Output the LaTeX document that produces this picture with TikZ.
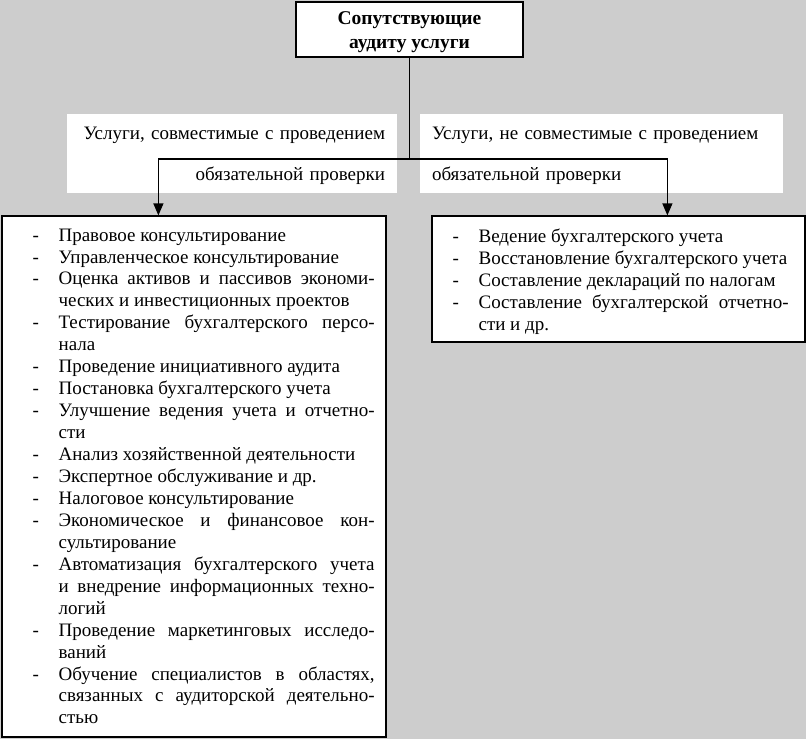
\documentclass[tikz,border=0pt]{standalone}
\usepackage{fontspec}
\setmainfont{Liberation Serif}
\usetikzlibrary{arrows.meta}

\definecolor{bggray}{RGB}{205,205,205}
\newlength\listw
% list lines: dash, then text; "full" lines are stretched to the column width
\newcommand\itemline[1]{\makebox[26pt][l]{-}#1}
\newcommand\itemfull[1]{\makebox[26pt][l]{-}\makebox[\listw][s]{#1}}
\newcommand\contline[1]{\hspace*{26pt}#1}
\newcommand\contfull[1]{\hspace*{26pt}\makebox[\listw][s]{#1}}
\newcommand\topstrut{\rule{0pt}{17.5pt}}

\begin{document}
\begin{tikzpicture}[
  x=1pt,y=-1pt,
  >={Triangle[width=10pt,length=12pt]},
  line width=1.2pt,
  box/.style={draw,fill=white,inner sep=0pt},
  label/.style={fill=white,inner xsep=12pt,inner ysep=0pt,
    minimum height=79pt,font=\fontsize{19}{41}\selectfont},
  listtext/.style={align=left,inner sep=0pt,anchor=north west,
    font=\fontsize{19}{21.95}\selectfont}
]
\fill[bggray] (0,0) rectangle (806,739);

% top node
\node[box,minimum width=227pt,minimum height=55pt,align=center,
  font=\fontsize{19.5}{24}\selectfont\bfseries] (title) at (409.5,29.5)
  {\topstrut Сопутствующие\\аудиту услуги};

% labels
\node[label,text width=306pt,align=right] (lefthead) at (232,153.5)
  {\topstrut Услуги, совместимые с проведением\\обязательной проверки};
\node[label,text width=339pt,align=left] (righthead) at (601.5,153.5)
  {\topstrut Услуги, не совместимые с проведением\\обязательной проверки};

% boxes
\node[box,minimum width=384pt,minimum height=521pt] (leftbox) at (194,476.5) {};
\node[box,minimum width=373pt,minimum height=126pt] (rightbox) at (618.5,279) {};

\setlength\listw{316pt}
\node[listtext] (leftlist) at (32,228) {%
  \itemline{Правовое консультирование}\\
  \itemline{Управленческое консультирование}\\
  \itemfull{Оценка активов и пассивов экономи-}\\
  \contline{ческих и инвестиционных проектов}\\
  \itemfull{Тестирование бухгалтерского персо-}\\
  \contline{нала}\\
  \itemline{Проведение инициативного аудита}\\
  \itemline{Постановка бухгалтерского учета}\\
  \itemfull{Улучшение ведения учета и отчетно-}\\
  \contline{сти}\\
  \itemline{Анализ хозяйственной деятельности}\\
  \itemline{Экспертное обслуживание и др.}\\
  \itemline{Налоговое консультирование}\\
  \itemfull{Экономическое и финансовое кон-}\\
  \contline{сультирование}\\
  \itemfull{Автоматизация бухгалтерского учета}\\
  \contfull{и внедрение информационных техно-}\\
  \contline{логий}\\
  \itemfull{Проведение маркетинговых исследо-}\\
  \contline{ваний}\\
  \itemfull{Обучение специалистов в областях,}\\
  \contfull{связанных с аудиторской деятельно-}\\
  \contline{стью}};

\setlength\listw{310pt}
\node[listtext] (rightlist) at (452,228) {%
  \itemline{Ведение бухгалтерского учета}\\
  \itemline{Восстановление бухгалтерского учета}\\
  \itemline{Составление деклараций по налогам}\\
  \itemfull{Составление бухгалтерской отчетно-}\\
  \contline{сти и др.}};

% connectors
\coordinate (J) at (title.south |- 0,159);
\draw (title.south) -- (J);
\draw[->] (J) -| ([xshift=157pt]leftbox.north west);
\draw[->] (J) -| ([xshift=236pt]rightbox.north west);
\end{tikzpicture}
\end{document}
